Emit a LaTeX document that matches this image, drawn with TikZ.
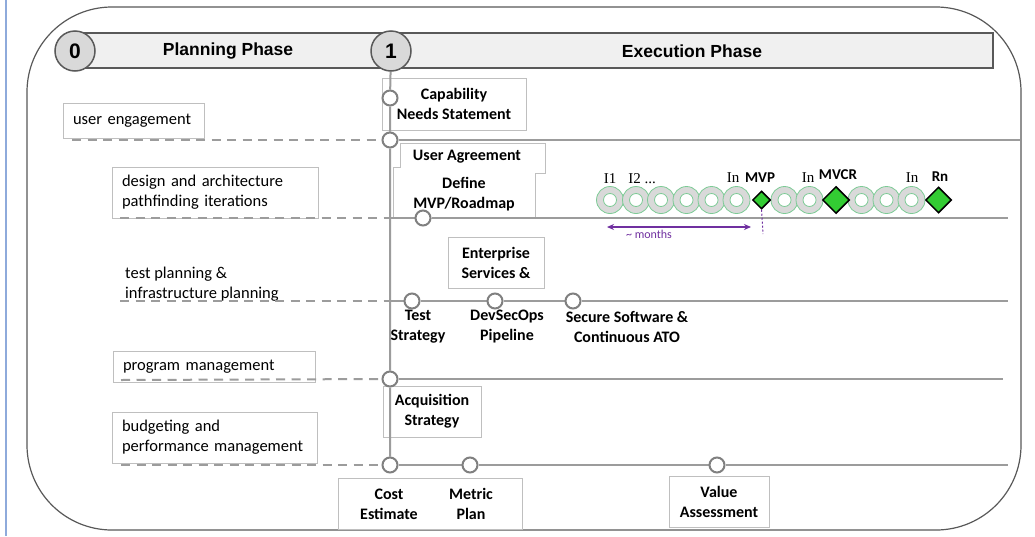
\documentclass[tikz,border=0pt]{standalone}
\usepackage{fontspec}
\setmainfont{Carlito}
\newfontfamily\hdfont{Liberation Sans}
\newfontfamily\serfont{Liberation Serif}
\usetikzlibrary{shapes.geometric,arrows.meta}
\pgfdeclarelayer{boxlayer}
\pgfdeclarelayer{linelayer}
\pgfsetlayers{boxlayer,linelayer,main}
\definecolor{lanegray}{HTML}{9C9C9C}
\definecolor{mkgray}{HTML}{808080}
\definecolor{boxgray}{HTML}{BFBFBF}
\definecolor{ringgreen}{HTML}{7CCB95}
\definecolor{ringfill}{HTML}{D9D9D9}
\definecolor{dgreen}{HTML}{33CC33}
\definecolor{purp}{HTML}{7030A0}
\definecolor{blueline}{HTML}{8EAADB}
\definecolor{barfill}{HTML}{F0F0F0}
\definecolor{bardraw}{HTML}{595959}
\newcommand\lblfont{\fontsize{16}{20}\selectfont}
\newcommand\leftfont{\fontsize{16.5}{20}\selectfont}
\newcommand\hdrfont{\hdfont\bfseries\fontsize{17.5}{20}\selectfont}
\tikzset{
  lane/.style={draw=lanegray, line width=2},
  dl/.style={draw=lanegray, line width=2, dash pattern=on 9pt off 6.5pt},
  mk/.style={circle, draw=mkgray, fill=white, line width=2, minimum size=15, inner sep=0},
  bx/.style={draw=boxgray, fill=white, line width=0.9, inner sep=0, font=\lblfont\bfseries, align=center},
  lbx/.style={draw=boxgray, fill=white, line width=0.9, inner xsep=10, inner ysep=0, font=\leftfont, align=left},
  tx/.style={font=\lblfont\bfseries, align=center, inner sep=0},
  ring/.style={circle, fill=ringfill, draw=ringgreen, line width=0.8, minimum size=27, inner sep=0},
  hole/.style={circle, fill=white, draw=ringgreen, line width=0.8, minimum size=13, inner sep=0},
  dia/.style={diamond, fill=dgreen, draw=black, line width=1.5, inner sep=0},
  itl/.style={font=\serfont\fontsize{15}{16}\selectfont, inner sep=0},
  itb/.style={font=\bfseries\fontsize{15}{16}\selectfont, inner sep=0},
  phase/.style={circle, fill=ringfill, draw=bardraw, line width=1.5, minimum size=40, inner sep=0, font=\hdfont\bfseries\fontsize{21}{24}\selectfont}
}
\begin{document}
\begin{tikzpicture}[x=1pt,y=-1pt]
\useasboundingbox (0,0) rectangle (1035,536);

\begin{pgfonlayer}{boxlayer}
\fill[white] (0,0) rectangle (1035,536);
\draw[blueline, line width=2] (6,0) -- (6,536);
\draw[draw=bardraw, line width=1.2, rounded corners=85] (27,7) rectangle (1021,530);
% left labels
\node[lbx, text width=121, minimum height=35] (ue) at (133.5,120.5) {user engagement};
\node[lbx, text width=186, minimum height=51] (des) at (215,192.5) {design and architecture\\pathfinding iterations};
\node[lbx, text width=182, minimum height=31] (pm) at (214,366.5) {program management};
\node[lbx, text width=185, minimum height=51] (bud) at (214.5,437.5) {budgeting and\\performance management};
\node[font=\leftfont, align=left, anchor=west, inner sep=0] (tp) at (125,284.5) {test planning \&\\infrastructure planning};
% right boxes
\node[bx, minimum width=144, minimum height=52] (cap) at (454,104) {Capability\\Needs Statement};
\draw[draw=boxgray, fill=white, line width=0.9] (400,143) -- (545,143) -- (545,173) -- (535,173) -- (535,218) -- (393,218) -- (393,167) -- (400,167) -- cycle;
\node[bx, minimum width=96, minimum height=51] (ent) at (496,262.5) {Enterprise\\Services \&};
\node[bx, minimum width=98, minimum height=51] (acq) at (432,411.5) {Acquisition\\Strategy};
\node[draw=boxgray, fill=white, line width=0.9, minimum width=184, minimum height=51, inner sep=0] (cbox) at (430,503.5) {};
\node[bx, minimum width=100, minimum height=51] (val) at (719,501.5) {Value\\Assessment};
\end{pgfonlayer}

% header bar
\node[draw=bardraw, fill=barfill, line width=1.2, minimum width=918, minimum height=35, inner sep=0] (hb) at (534,50.5) {};
\node[font=\hdrfont] (pp) at (228,51) {Planning Phase};
\node[font=\hdrfont] (ep) at (692,51) {Execution Phase};
\node[phase] (c0) at (75,51) {0};
\node[phase] (c1) at (391,51) {1};

% texts
\node[tx] (ua) at (467,157) {User Agreement};
\node[tx] (dmvp) at (464,194) {Define\\MVP/Roadmap};
\node[tx] (ts) at (418,327) {Test\\Strategy};
\node[tx] (dso) at (507,327) {DevSecOps\\Pipeline};
\node[tx] (ssw) at (627,327) {Secure Software \&\\Continuous ATO};
\node[tx] (ce) at (389,504) {Cost\\Estimate};
\node[tx] (mp) at (471,504) {Metric\\Plan};

% markers
\node[mk] (mcap) at (390,98) {};
\node[mk] (m1) at (390,140) {};
\node[mk] (m2) at (423,218) {};
\node[mk] (mt) at (412,301) {};
\node[mk] (md) at (495,301) {};
\node[mk] (ms) at (573,301) {};
\node[mk] (m4) at (390,379) {};
\node[mk] (mc) at (390,465) {};
\node[mk] (mm) at (470,465) {};
\node[mk] (mv) at (717,465) {};
\coordinate (j2) at (390,218);
\coordinate (j3) at (390,301);
\coordinate (d1) at (72,140);
\coordinate (d2) at (120,218);
\coordinate (d3) at (120,301);
\coordinate (d4) at (121,380);
\coordinate (d5) at (121,465);
\coordinate (e1) at (1020,140);
\coordinate (e2) at (1008,218);
\coordinate (e3) at (1008,301);
\coordinate (e4) at (1003,379);
\coordinate (e5) at (1008,465);

\begin{pgfonlayer}{linelayer}
\draw[lane] (c1) -- (mcap) -- (m1) -- (j2) -- (j3) -- (m4) -- (mc);
\draw[dl] (d1) -- (m1);
\draw[lane] (m1) -- (e1);
\draw[dl] (d2) -- (j2);
\draw[lane] (j2) -- (m2) -- (e2);
\draw[dl] (d3) -- (j3);
\draw[lane] (j3) -- (mt) -- (md) -- (ms) -- (e3);
\draw[dl] (d4) -- (m4);
\draw[lane] (m4) -- (e4);
\draw[dl] (d5) -- (mc);
\draw[lane] (mc) -- (mm) -- (mv) -- (e5);
\end{pgfonlayer}

% iterations
\foreach \n/\x in {1/610,2/636,3/661,4/686.5,5/711.5,6/736.5,7/784.5,8/809.5,9/861.5,10/886.5,11/911.5}{
  \node[ring] (r\n) at (\x,200) {};
  \node[hole] (h\n) at (r\n) {};
}
\node[dia, minimum width=18, minimum height=18] (mvp) at (761.5,200) {};
\node[dia, minimum width=27, minimum height=27] (mvcr) at (836,200) {};
\node[dia, minimum width=26, minimum height=26] (rn) at (938.5,200) {};
\node[itl] (l1) at (610,179) {I1};
\node[itl] (l2) at (642,179) {I2 ...};
\node[itl] (l3) at (733,178) {In};
\node[itb] (l4) at (760,177.5) {MVP};
\node[itl] (l5) at (808,178) {In};
\node[itb] (l6) at (838,175) {MVCR};
\node[itl] (l7) at (912,178) {In};
\node[itb] (l8) at (940,177) {Rn};

\coordinate (aL) at (607,227);
\coordinate (aR) at (751,227);
\draw[purp, line width=1.2, {Stealth[length=7pt,width=6pt]}-{Stealth[length=7pt,width=6pt]}] (aL) -- (aR);
\node[purp, font=\fontsize{12}{13}\selectfont, inner sep=0] (mo) at (649,234) {\textasciitilde\ months};
\coordinate (dv) at (763,234);
\draw[purp, line width=1, dash pattern=on 2pt off 2pt] (mvp.south) -- (dv);
\end{tikzpicture}
\end{document}
